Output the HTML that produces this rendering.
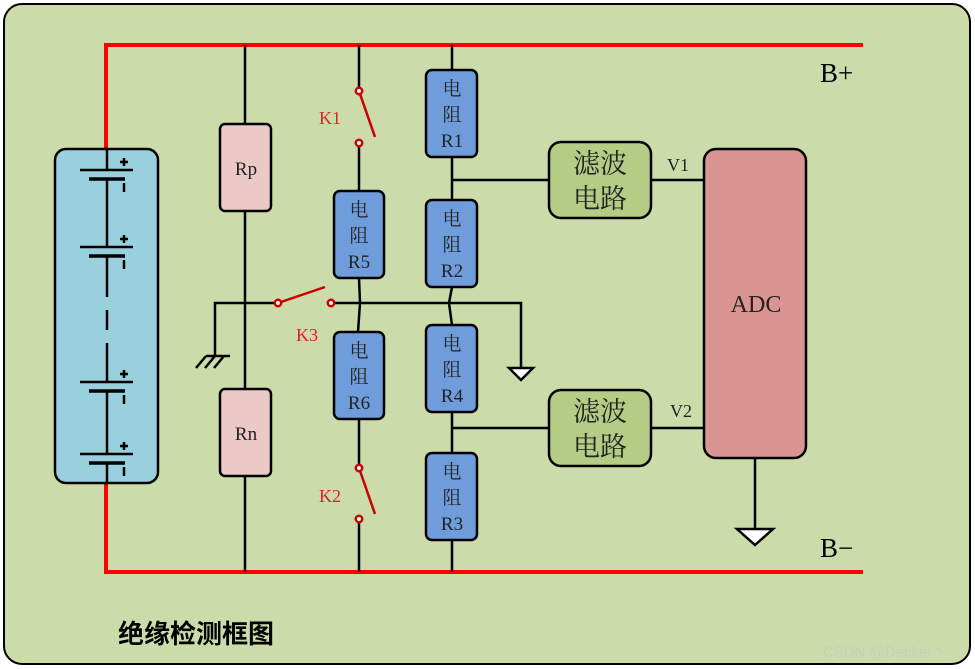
<!DOCTYPE html>
<html><head><meta charset="utf-8"><style>
html,body{margin:0;padding:0;background:#fff;}
svg{display:block;}
.t{font-family:"Liberation Serif","Noto Serif CJK SC",serif;}
</style></head><body>
<svg width="975" height="669" viewBox="0 0 975 669" xmlns="http://www.w3.org/2000/svg">
<rect x="4" y="4" width="966" height="660" rx="18" fill="#ccdbaa" stroke="#000" stroke-width="2"/>
<!-- red rails -->
<g stroke="#ff0000" stroke-width="4" fill="none">
<polyline points="106,150 106,45 863,45"/>
<polyline points="106,483 106,572 863,572"/>
</g>
<!-- battery -->
<rect x="55" y="149" width="103" height="334" rx="11" fill="#99d0de" stroke="#000" stroke-width="2.5"/>
<g stroke="#000" stroke-width="2.5" fill="none">
<line x1="107" y1="150" x2="107" y2="170"/>
<line x1="80" y1="170" x2="133" y2="170"/><line x1="89" y1="179" x2="125" y2="179" stroke-width="3.5"/>
<line x1="107" y1="179" x2="107" y2="247"/>
<line x1="80" y1="247" x2="133" y2="247"/><line x1="89" y1="256" x2="125" y2="256" stroke-width="3.5"/>
<line x1="107" y1="256" x2="107" y2="297"/>
<line x1="107" y1="310" x2="107" y2="330"/>
<line x1="107" y1="343" x2="107" y2="382"/>
<line x1="80" y1="382" x2="133" y2="382"/><line x1="89" y1="391" x2="125" y2="391" stroke-width="3.5"/>
<line x1="107" y1="391" x2="107" y2="454"/>
<line x1="80" y1="454" x2="133" y2="454"/><line x1="89" y1="463" x2="125" y2="463" stroke-width="3.5"/>
<line x1="107" y1="463" x2="107" y2="483"/>
<!-- plus/minus -->
<path d="M120 162h8M124 158v8M120 239h8M124 235v8M120 374h8M124 370v8M120 446h8M124 442v8"/>
<path d="M124 183v9M124 260v9M124 395v9M124 467v9"/>
</g>
<!-- black wiring -->
<g stroke="#000" stroke-width="2.5" fill="none">
<line x1="245" y1="45" x2="245" y2="572"/>
<polyline points="215,355 215,303 275,303"/>
<path d="M196 368l10-12M205 368l10-12M214 368l10-12M206 356h24"/>
<polyline points="335,303 521,303 521,368"/>
<line x1="359" y1="45" x2="359" y2="87"/>
<line x1="359" y1="147" x2="359" y2="191"/>
<polyline points="359,278 360,303 358,332"/>
<line x1="359" y1="419" x2="359" y2="464"/>
<line x1="359" y1="523" x2="359" y2="572"/>
<line x1="452" y1="45" x2="452" y2="70"/>
<line x1="452" y1="157" x2="452" y2="200"/>
<polyline points="452,287 449,303 452,325"/>
<line x1="452" y1="412" x2="452" y2="453"/>
<line x1="452" y1="540" x2="452" y2="572"/>
<line x1="452" y1="180" x2="549" y2="180"/>
<line x1="452" y1="428" x2="549" y2="428"/>
<line x1="651" y1="180" x2="704" y2="180"/>
<line x1="651" y1="428" x2="704" y2="428"/>
<line x1="755" y1="458" x2="755" y2="529"/>
</g>
<polygon points="509,368 533,368 521,380" fill="#fff" stroke="#000" stroke-width="2.5"/>
<polygon points="737,529 773,529 755,545" fill="#fff" stroke="#000" stroke-width="2.5"/>
<!-- switches -->
<g stroke="#cc0000" stroke-width="2.5" fill="#fff">
<line x1="359" y1="91" x2="375" y2="137"/>
<line x1="278" y1="303" x2="325" y2="287"/>
<line x1="359" y1="468" x2="375" y2="514"/>
<circle cx="359" cy="91" r="3.2"/><circle cx="359" cy="143" r="3.2"/>
<circle cx="278" cy="303" r="3.2"/><circle cx="331" cy="303" r="3.2"/>
<circle cx="359" cy="468" r="3.2"/><circle cx="359" cy="519" r="3.2"/>
</g>
<g class="t" fill="#d22" font-size="18">
<text x="319" y="124">K1</text><text x="296" y="341">K3</text><text x="319" y="502">K2</text>
</g>
<!-- Rp Rn -->
<g stroke="#000" stroke-width="2.5">
<rect x="220" y="124" width="51" height="87" rx="5" fill="#ecc9c7"/>
<rect x="220" y="389" width="51" height="87" rx="5" fill="#ecc9c7"/>
<rect x="334" y="191" width="50" height="87" rx="6" fill="#6f9ddc"/>
<rect x="334" y="332" width="50" height="87" rx="6" fill="#6f9ddc"/>
<rect x="426" y="70" width="51" height="87" rx="6" fill="#6f9ddc"/>
<rect x="426" y="200" width="51" height="87" rx="6" fill="#6f9ddc"/>
<rect x="426" y="325" width="51" height="87" rx="6" fill="#6f9ddc"/>
<rect x="426" y="453" width="51" height="87" rx="6" fill="#6f9ddc"/>
<rect x="549" y="142" width="102" height="76" rx="12" fill="#b5cc85"/>
<rect x="549" y="390" width="102" height="76" rx="12" fill="#b5cc85"/>
<rect x="704" y="149" width="102" height="309" rx="12" fill="#da9593"/>
</g>
<g class="t" fill="#222" font-size="19" text-anchor="middle">
<text x="246" y="175">Rp</text><text x="246" y="440">Rn</text>
<text x="359" y="216">电</text><text x="359" y="242">阻</text><text x="359" y="268">R5</text>
<text x="359" y="357">电</text><text x="359" y="383">阻</text><text x="359" y="409">R6</text>
<text x="452" y="95">电</text><text x="452" y="121">阻</text><text x="452" y="147">R1</text>
<text x="452" y="225">电</text><text x="452" y="251">阻</text><text x="452" y="277">R2</text>
<text x="452" y="350">电</text><text x="452" y="376">阻</text><text x="452" y="402">R4</text>
<text x="452" y="478">电</text><text x="452" y="504">阻</text><text x="452" y="530">R3</text>
<g font-size="27"><text x="600" y="173">滤波</text><text x="600" y="208">电路</text>
<text x="600" y="421">滤波</text><text x="600" y="456">电路</text></g>
<text x="756" y="312" font-size="24">ADC</text>
<text x="678" y="171" font-size="18">V1</text><text x="681" y="417" font-size="18">V2</text>
</g>
<g class="t" fill="#000" font-size="27">
<text x="820" y="82">B+</text><text x="820" y="557">B−</text>
</g>
<text x="118" y="643" font-family="Liberation Sans,'Noto Sans CJK SC',sans-serif" font-size="26" font-weight="bold" fill="#000">绝缘检测框图</text>
<text x="823" y="657" font-family="Liberation Sans,'Noto Sans CJK SC',sans-serif" font-size="15" fill="#c8cdc0">CSDN @Decker丶</text>
</svg>
</body></html>
